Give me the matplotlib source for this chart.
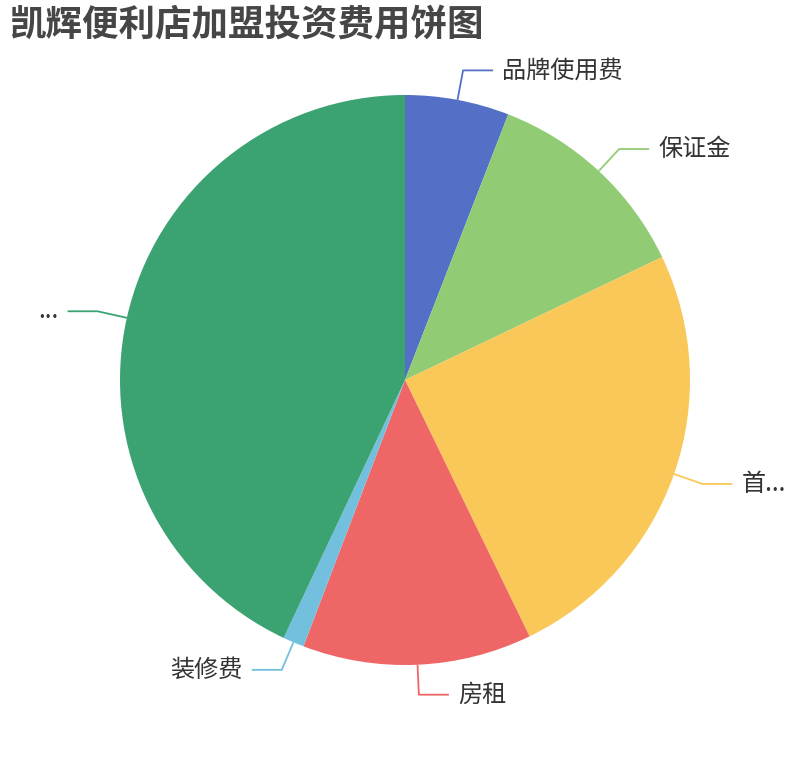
import matplotlib
matplotlib.use("Agg")
import matplotlib.pyplot as plt
import numpy as np

plt.rcParams['font.family'] = ['Noto Sans CJK SC', 'DejaVu Sans']

# 加盟投资费用 (estimated share, %)
labels = ['品牌使用费', '保证金', '首...', '房租', '装修费', '...']
values = [5.9, 12.0, 24.9, 13.0, 1.2, 43.0]
colors = ['#5470c6', '#91cc75', '#fac858', '#ee6666', '#73c0de', '#3ba272']

W, H = 810, 760
cx, cy, r = 405, H - 380, 285

fig = plt.figure(figsize=(W / 100, H / 100), dpi=100)
ax = fig.add_axes([0, 0, 1, 1])
ax.axis('off')

wedges, _ = ax.pie(values, colors=colors, startangle=90, counterclock=False,
                   center=(cx, cy), radius=r, wedgeprops=dict(linewidth=0))
ax.set_xlim(0, W)
ax.set_ylim(0, H)

# leader lines + labels
for w, lab, col in zip(wedges, labels, colors):
    mid = np.deg2rad((w.theta1 + w.theta2) / 2)
    x0, y0 = cx + r * np.cos(mid), cy + r * np.sin(mid)
    x1, y1 = cx + (r + 30) * np.cos(mid), cy + (r + 30) * np.sin(mid)
    side = 1 if np.cos(mid) >= 0 else -1
    x2 = x1 + side * 30
    ax.plot([x0, x1, x2], [y0, y1, y1], color=col, lw=1.3, solid_capstyle='butt')
    ax.text(x2 + side * 9, y1, lab, fontsize=17.4, color='#333333',
            ha='left' if side > 0 else 'right', va='center')

fig.text(9 / W, 1 - 25 / H, '凯辉便利店加盟投资费用饼图', fontsize=26.3,
         fontweight='bold', color='#464646', ha='left', va='center')

fig.savefig('out.png', dpi=100)
